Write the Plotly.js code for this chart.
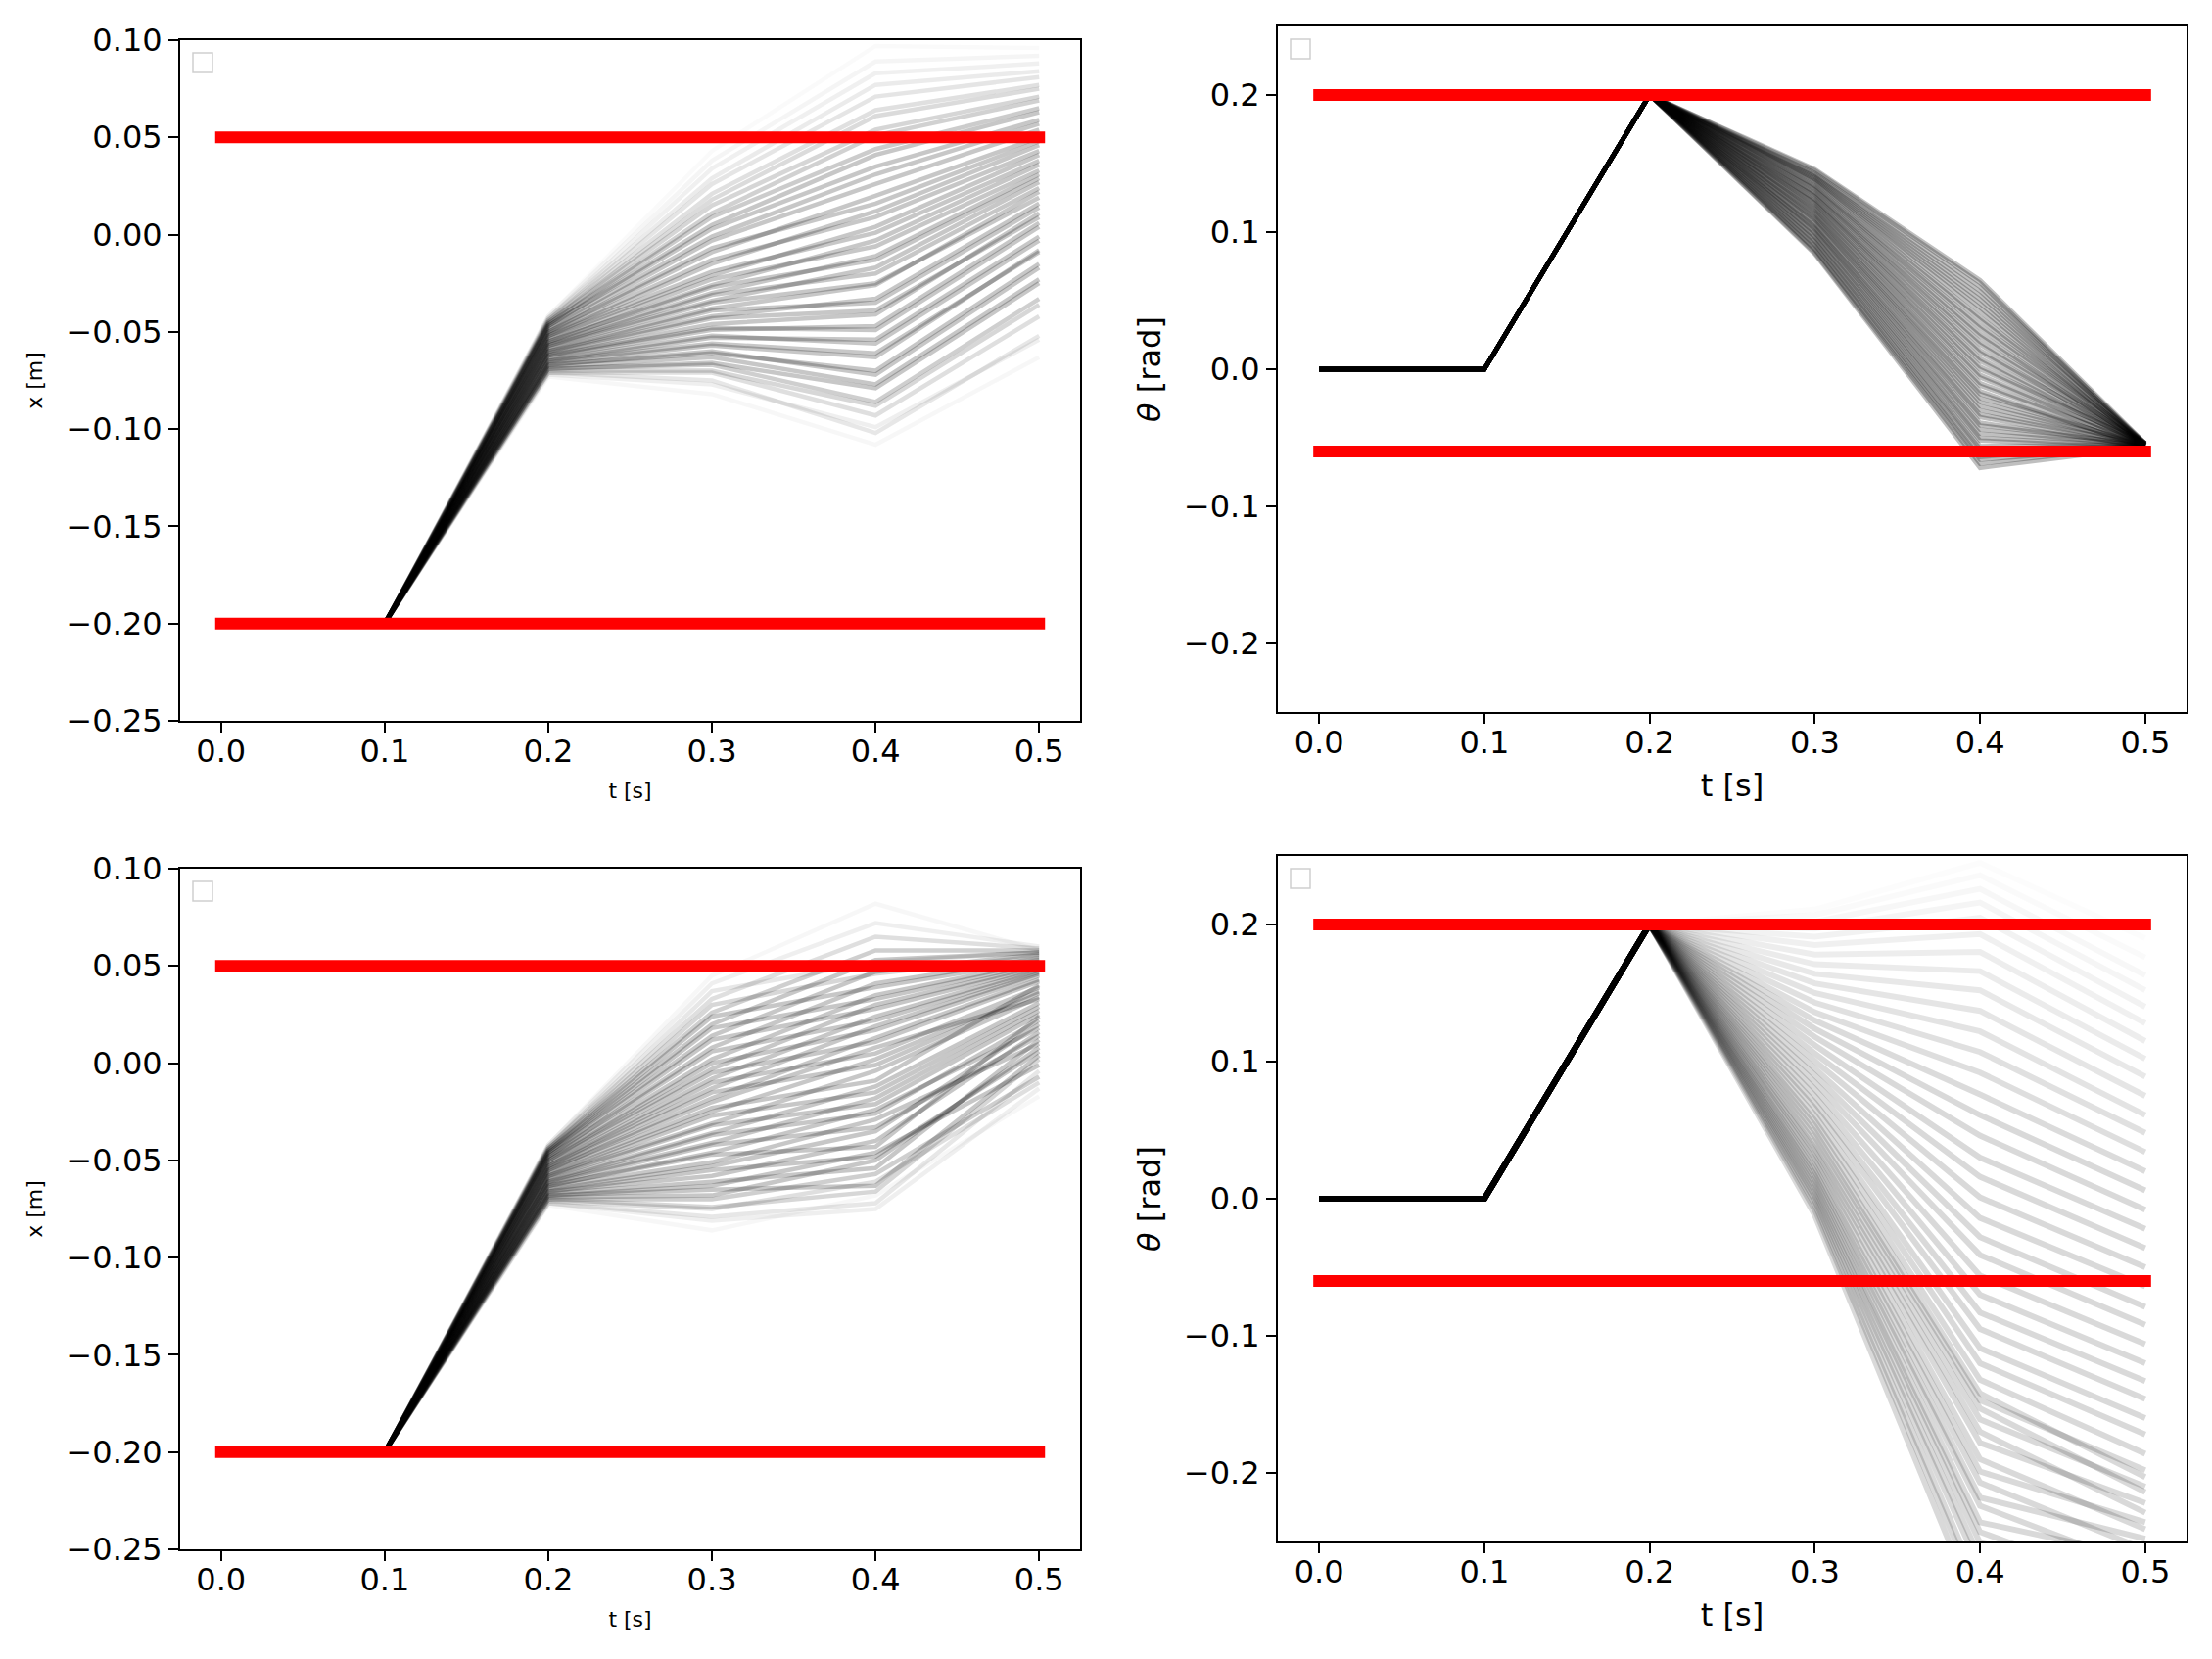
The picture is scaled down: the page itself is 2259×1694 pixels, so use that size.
<!DOCTYPE html>
<html>
<head>
<meta charset="utf-8">
<script src="https://cdn.plot.ly/plotly-3.0.1.min.js"></script>
<style>
  html, body { margin: 0; padding: 0; background: #fff; }
  #chart { width: 2259px; height: 1694px; }
</style>
</head>
<body>
<div id="chart"></div>
<script>
// time grid shared by every trajectory
var tGrid = [0, 0.1, 0.2, 0.3, 0.4, 0.5];

// ---- x [m], first run (top left) ----
var xStart = [-0.2, -0.2];
var xA_t2 = [-0.073,-0.072,-0.071,-0.071,-0.070,-0.069,-0.069,-0.068,-0.067,-0.067,
  -0.066,-0.065,-0.065,-0.064,-0.063,-0.062,-0.062,-0.061,-0.060,-0.060,
  -0.059,-0.058,-0.057,-0.057,-0.056,-0.055,-0.055,-0.054,-0.053,-0.052,
  -0.052,-0.051,-0.050,-0.050,-0.049,-0.048,-0.047,-0.047,-0.046,-0.046,
  -0.045,-0.045,-0.044,-0.044,-0.043,-0.043,-0.042,-0.042];
var xA_t3 = [-0.082,-0.077,-0.075,-0.071,-0.070,-0.067,-0.066,-0.063,-0.061,-0.060,
  -0.057,-0.056,-0.053,-0.052,-0.049,-0.048,-0.046,-0.043,-0.042,-0.039,
  -0.038,-0.035,-0.034,-0.031,-0.030,-0.027,-0.026,-0.023,-0.021,-0.019,
  -0.015,-0.013,-0.009,-0.007,-0.003,-0.001,0.003,0.005,0.009,0.011,
  0.015,0.018,0.021,0.026,0.029,0.034,0.038,0.043];
var xA_t4 = [-0.108,-0.099,-0.102,-0.093,-0.088,-0.086,-0.079,-0.077,-0.070,-0.072,
  -0.063,-0.061,-0.054,-0.056,-0.047,-0.049,-0.041,-0.039,-0.033,-0.035,
  -0.026,-0.025,-0.017,-0.020,-0.011,-0.013,-0.003,-0.006,0.004,0.001,
  0.012,0.009,0.020,0.016,0.026,0.031,0.035,0.041,0.044,0.051,
  0.054,0.061,0.064,0.071,0.077,0.083,0.089,0.097];
var xA_t5 = [-0.063,-0.054,-0.052,-0.042,-0.036,-0.033,-0.025,-0.023,-0.015,-0.017,
  -0.008,-0.009,-0.001,-0.003,0.006,0.004,0.011,0.009,0.016,0.014,
  0.022,0.019,0.027,0.024,0.031,0.029,0.036,0.033,0.041,0.038,
  0.046,0.043,0.050,0.048,0.054,0.057,0.059,0.063,0.065,0.069,
  0.071,0.075,0.077,0.081,0.084,0.088,0.092,0.096];

// ---- x [m], second run (bottom left) ----
var xC_t2 = [-0.073,-0.072,-0.072,-0.071,-0.070,-0.070,-0.069,-0.068,-0.068,-0.067,
  -0.066,-0.066,-0.065,-0.064,-0.063,-0.063,-0.062,-0.061,-0.061,-0.060,
  -0.059,-0.058,-0.058,-0.057,-0.056,-0.055,-0.055,-0.054,-0.053,-0.053,
  -0.052,-0.051,-0.050,-0.050,-0.049,-0.048,-0.048,-0.047,-0.046,-0.046,
  -0.045,-0.045,-0.044,-0.044,-0.043,-0.043,-0.042,-0.042];
var xC_t3 = [-0.086,-0.081,-0.079,-0.075,-0.074,-0.070,-0.068,-0.065,-0.063,-0.061,
  -0.058,-0.055,-0.053,-0.051,-0.047,-0.046,-0.042,-0.041,-0.037,-0.036,
  -0.032,-0.031,-0.027,-0.025,-0.023,-0.020,-0.018,-0.015,-0.013,-0.010,
  -0.008,-0.005,-0.003,0.000,0.002,0.006,0.008,0.012,0.014,0.018,
  0.020,0.024,0.026,0.030,0.033,0.037,0.041,0.045];
var xC_t4 = [-0.068,-0.075,-0.072,-0.061,-0.066,-0.057,-0.050,-0.063,-0.046,-0.054,
  -0.040,-0.048,-0.035,-0.029,-0.043,-0.024,-0.033,-0.018,-0.026,-0.012,
  -0.021,-0.004,-0.015,0.002,-0.009,0.008,0.013,-0.001,0.019,0.005,
  0.024,0.011,0.030,0.017,0.035,0.022,0.041,0.028,0.047,0.033,
  0.053,0.039,0.058,0.046,0.065,0.052,0.072,0.082];
var xC_t5 = [-0.017,-0.013,-0.004,-0.010,0.002,-0.007,0.008,0.004,-0.001,0.012,
  0.016,0.006,0.020,0.010,0.024,0.018,0.014,0.027,0.022,0.031,
  0.025,0.034,0.029,0.037,0.040,0.033,0.043,0.036,0.046,0.039,
  0.048,0.042,0.050,0.045,0.052,0.047,0.054,0.049,0.056,0.051,
  0.057,0.053,0.058,0.055,0.059,0.057,0.060,0.058];

// ---- theta [rad], first run (top right) ----
var thStart = [0, 0, 0.2];
var thB_t3 = [0.084,0.085,0.087,0.088,0.090,0.091,0.093,0.094,0.096,0.097,
  0.099,0.100,0.102,0.103,0.104,0.106,0.107,0.109,0.110,0.111,
  0.113,0.114,0.115,0.117,0.118,0.119,0.121,0.122,0.123,0.124,
  0.126,0.127,0.128,0.129,0.131,0.132,0.133,0.134,0.136,0.137,
  0.138,0.139,0.140,0.141,0.142,0.143,0.145,0.146];
var thB_t4 = [-0.072,-0.069,-0.066,-0.064,-0.061,-0.058,-0.056,-0.052,-0.050,-0.047,
  -0.044,-0.041,-0.039,-0.035,-0.033,-0.030,-0.027,-0.024,-0.021,-0.018,
  -0.016,-0.012,-0.010,-0.006,-0.004,0.000,0.002,0.006,0.008,0.012,
  0.014,0.018,0.020,0.024,0.026,0.030,0.032,0.036,0.038,0.042,
  0.045,0.048,0.051,0.054,0.057,0.060,0.063,0.065];
var thB_t5 = [-0.057,-0.056,-0.057,-0.055,-0.056,-0.056,-0.055,-0.057,-0.056,-0.055,
  -0.056,-0.055,-0.056,-0.057,-0.055,-0.056,-0.055,-0.056,-0.055,-0.056,
  -0.057,-0.055,-0.056,-0.055,-0.056,-0.054,-0.055,-0.056,-0.055,-0.054,
  -0.056,-0.055,-0.054,-0.055,-0.056,-0.055,-0.054,-0.055,-0.054,-0.055,
  -0.056,-0.054,-0.055,-0.054,-0.055,-0.054,-0.055,-0.054];

// ---- theta [rad], second run (bottom right) ----
var thD_t3 = [-0.012,-0.008,-0.004,-0.001,0.002,0.005,0.008,0.011,0.014,0.017,
  0.020,0.023,0.027,0.030,0.034,0.037,0.041,0.045,0.049,0.053,
  0.057,0.061,0.066,0.070,0.075,0.080,0.085,0.090,0.095,0.100,
  0.106,0.112,0.118,0.124,0.130,0.136,0.143,0.150,0.157,0.164,
  0.171,0.178,0.185,0.191,0.197,0.202,0.207,0.211];
var thD_t4 = [-0.305,-0.292,-0.284,-0.270,-0.262,-0.251,-0.243,-0.236,-0.224,-0.218,
  -0.207,-0.199,-0.190,-0.178,-0.170,-0.161,-0.153,-0.147,-0.142,-0.132,
  -0.120,-0.109,-0.095,-0.083,-0.070,-0.056,-0.041,-0.028,-0.014,0.001,
  0.016,0.030,0.046,0.061,0.076,0.092,0.107,0.122,0.137,0.152,
  0.166,0.180,0.193,0.205,0.216,0.226,0.236,0.245];
var thD_t5 = [-0.330,-0.312,-0.318,-0.296,-0.301,-0.279,-0.287,-0.262,-0.270,-0.248,
  -0.256,-0.236,-0.241,-0.222,-0.229,-0.210,-0.214,-0.198,-0.203,-0.186,
  -0.172,-0.160,-0.146,-0.133,-0.120,-0.106,-0.092,-0.079,-0.064,-0.050,
  -0.036,-0.022,-0.008,0.006,0.020,0.034,0.048,0.061,0.075,0.089,
  0.102,0.115,0.128,0.140,0.152,0.163,0.176,0.190];

// constraint bounds (red lines)
var xBounds = [0.05, -0.2];
var thBounds = [0.2, -0.06];

var W = 2259, H = 1694;
function px(x) { return x / W; }
function py(y) { return 1 - y / H; }

var data = [];

// fadeLo / fadeHi: how many outer lines of the bundle get thinned out
function addBundle(start, t2, t3, t4, t5, xa, ya, alpha, width, fadeLo, fadeHi) {
  let n = t3.length;
  for (let i = 0; i < n; i++) {
    let y = start.slice();
    if (t2 != null) y.push(t2[i]);
    y.push(t3[i], t4[i], t5[i]);
    let f = 1;
    if (fadeLo > 0 && i < fadeLo) f = Math.min(f, (i + 1) / (fadeLo + 1));
    if (fadeHi > 0 && n - 1 - i < fadeHi) f = Math.min(f, (n - i) / (fadeHi + 1));
    data.push({
      x: tGrid, y: y, xaxis: xa, yaxis: ya,
      type: 'scatter', mode: 'lines', hoverinfo: 'skip',
      line: {color: 'rgba(0,0,0,' + (alpha * f).toFixed(3) + ')', width: width}
    });
  }
}

function addBounds(b, xa, ya) {
  for (let i = 0; i < b.length; i++) {
    data.push({
      x: [tGrid[0], tGrid[tGrid.length - 1]], y: [b[i], b[i]],
      xaxis: xa, yaxis: ya, type: 'scatter', mode: 'lines', hoverinfo: 'skip',
      line: {color: '#ff0000', width: 12}
    });
  }
}

addBundle(xStart, xA_t2, xA_t3, xA_t4, xA_t5, 'x', 'y', 0.22, 4.5, 6, 10);
addBundle(thStart, null, thB_t3, thB_t4, thB_t5, 'x2', 'y2', 0.25, 4.5, 0, 0);
addBundle(xStart, xC_t2, xC_t3, xC_t4, xC_t5, 'x3', 'y3', 0.22, 4.5, 6, 6);
addBundle(thStart, null, thD_t3, thD_t4, thD_t5, 'x4', 'y4', 0.15, 6, 0, 14);
addBounds(xBounds, 'x', 'y');
addBounds(thBounds, 'x2', 'y2');
addBounds(xBounds, 'x3', 'y3');
addBounds(thBounds, 'x4', 'y4');

var tickFont = {family: 'DejaVu Sans', size: 32, color: '#000'};

function xAxis(dom, anchor, titleSize) {
  return {
    domain: dom, anchor: anchor, range: [-0.025, 0.525],
    tick0: 0, dtick: 0.1, tickformat: '.1f',
    showgrid: false, zeroline: false,
    showline: true, mirror: true, linecolor: '#000', linewidth: 2,
    ticks: 'outside', ticklen: 10, tickwidth: 2, tickcolor: '#000',
    tickfont: tickFont, ticklabelstandoff: -8,
    title: {text: 't [s]', standoff: 14, font: {family: 'DejaVu Sans', size: titleSize, color: '#000'}}
  };
}

function yAxis(dom, anchor, range, dtick, fmt, title, titleSize, standoff) {
  return {
    domain: dom, anchor: anchor, range: range,
    tick0: 0, dtick: dtick, tickformat: fmt,
    showgrid: false, zeroline: false,
    showline: true, mirror: true, linecolor: '#000', linewidth: 2,
    ticks: 'outside', ticklen: 10, tickwidth: 2, tickcolor: '#000',
    tickfont: tickFont,
    title: {text: title, standoff: standoff, font: {family: 'DejaVu Sans', size: titleSize, color: '#000'}}
  };
}

// empty legend boxes in the upper left corner of every panel
var boxes = [[197, 54], [1318, 40], [197, 900], [1318, 887]];
var shapes = boxes.map(function (b) {
  return {
    type: 'rect', xref: 'paper', yref: 'paper',
    x0: px(b[0]), x1: px(b[0] + 20), y0: py(b[1]), y1: py(b[1] + 20),
    line: {color: '#cfcfcf', width: 1.5}, fillcolor: 'rgba(255,255,255,0.8)'
  };
});

var layout = {
  width: W, height: H,
  margin: {l: 0, r: 0, t: 0, b: 0},
  paper_bgcolor: '#fff', plot_bgcolor: '#fff',
  showlegend: false,
  font: {family: 'DejaVu Sans', color: '#000'},
  xaxis:  xAxis([px(184), px(1103)], 'y', 22),
  yaxis:  yAxis([py(736), py(41)], 'x', [-0.25, 0.10], 0.05, '.2f', 'x [m]', 22, 18),
  xaxis2: xAxis([px(1305), px(2233)], 'y2', 32),
  yaxis2: yAxis([py(727), py(27)], 'x2', [-0.25, 0.25], 0.1, '.1f', '<i>θ</i> [rad]', 32, 14),
  xaxis3: xAxis([px(184), px(1103)], 'y3', 22),
  yaxis3: yAxis([py(1582), py(887)], 'x3', [-0.25, 0.10], 0.05, '.2f', 'x [m]', 22, 18),
  xaxis4: xAxis([px(1305), px(2233)], 'y4', 32),
  yaxis4: yAxis([py(1574), py(874)], 'x4', [-0.25, 0.25], 0.1, '.1f', '<i>θ</i> [rad]', 32, 14),
  shapes: shapes
};

Plotly.newPlot('chart', data, layout, {staticPlot: true}).then(function (gd) {
  // matplotlib draws the bound lines with projecting caps
  gd.querySelectorAll('.scatterlayer path.js-line').forEach(function (p) {
    if (p.style.stroke === 'rgb(255, 0, 0)') p.style.strokeLinecap = 'square';
  });
});
</script>
</body>
</html>
